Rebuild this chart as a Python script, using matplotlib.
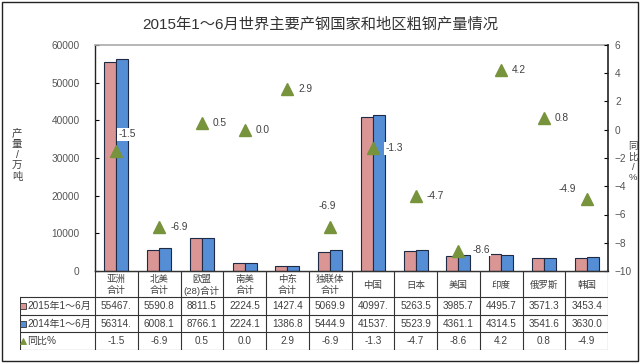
import matplotlib
matplotlib.use("Agg")
import matplotlib.pyplot as plt
import numpy as np

plt.rcParams['font.family'] = ['Liberation Sans', 'Noto Sans CJK SC', 'DejaVu Sans']

categories = ["亚洲\n合计", "北美\n合计", "欧盟\n(28)合计", "南美\n合计", "中东\n合计", "独联体\n合计",
              "中国", "日本", "美国", "印度", "俄罗斯", "韩国"]
prod_2015 = [55467.0, 5590.8, 8811.5, 2224.5, 1427.4, 5069.9, 40997.0, 5263.5, 3985.7, 4495.7, 3571.3, 3453.4]
prod_2014 = [56314.0, 6008.1, 8766.1, 2224.1, 1386.8, 5444.9, 41537.0, 5523.9, 4361.1, 4314.5, 3541.6, 3630.0]
yoy = [-1.5, -6.9, 0.5, 0.0, 2.9, -6.9, -1.3, -4.7, -8.6, 4.2, 0.8, -4.9]
txt_2015 = ["55467.", "5590.8", "8811.5", "2224.5", "1427.4", "5069.9", "40997.", "5263.5", "3985.7", "4495.7", "3571.3", "3453.4"]
txt_2014 = ["56314.", "6008.1", "8766.1", "2224.1", "1386.8", "5444.9", "41537.", "5523.9", "4361.1", "4314.5", "3541.6", "3630.0"]
txt_yoy = ["-1.5", "-6.9", "0.5", "0.0", "2.9", "-6.9", "-1.3", "-4.7", "-8.6", "4.2", "0.8", "-4.9"]
series_names = ["2015年1～6月", "2014年1～6月", "同比%"]

W, H = 640, 363
fig = plt.figure(figsize=(W/100, H/100), dpi=100)
fig.patch.set_facecolor('white')

def fx(px): return px / W
def fy(py): return 1 - py / H

# outer frame
fig.add_artist(plt.Rectangle((fx(2), fy(361)), fx(636), 359/H, transform=fig.transFigure,
                             fill=False, ec='#222222', lw=1.0))

pink = '#D99694'
blue = '#558ED5'
green = '#77933C'
tc = '#404040'

L, R, T, B = 95, 608, 45, 271
ax = fig.add_axes([fx(L), fy(B), fx(R - L), (B - T) / H])
n = len(categories)
x = np.arange(n)
bw = 0.28
ax.bar(x - bw/2, prod_2015, width=bw, color=pink, edgecolor='#1F2A44', lw=0.8, zorder=2)
ax.bar(x + bw/2, prod_2014, width=bw, color=blue, edgecolor='#1F2A44', lw=0.8, zorder=2)
ax.set_xlim(-0.5, n - 0.5)
ax.set_ylim(0, 60000)
ax.set_yticks(np.arange(0, 60001, 10000))
ax.set_xticks([])
ax.tick_params(axis='y', direction='in', length=3, labelsize=7.3, labelcolor='#555555', pad=11, width=0.8)
for s in ['left', 'bottom']:
    ax.spines[s].set_color('#222222')
    ax.spines[s].set_linewidth(1.0)
ax.spines['top'].set_color('#AAAAAA')
ax.spines['top'].set_linewidth(1.2)
ax.spines['right'].set_visible(False)

ax2 = ax.twinx()
ax2.set_ylim(-10, 6)
ax2.set_yticks(np.arange(-10, 7, 2))
ax2.tick_params(axis='y', direction='in', length=3, labelsize=7.3, labelcolor='#555555', pad=5, width=0.8)
ax2.spines['right'].set_color('#222222')
ax2.spines['right'].set_linewidth(1.2)
for s in ['left', 'top', 'bottom']:
    ax2.spines[s].set_visible(False)
ax2.plot(x, yoy, linestyle='none', marker='^', markersize=8.5, color=green, zorder=3)

# label offsets (points): dx, dy, ha, white box
offs = {0: (8, 12, 'center', True), 5: (-2, 15, 'center', False), 11: (-14, 7, 'center', False),
        6: (9, 0, 'left', True), 8: (10, 1, 'left', True)}
for i, v in enumerate(yoy):
    dx, dy, ha, box = offs.get(i, (8, 0, 'left', False))
    kw = dict(bbox=dict(fc='white', ec='none', pad=1)) if box else {}
    ax2.annotate(txt_yoy[i], (x[i], v), xytext=(dx, dy), textcoords='offset points',
                 ha=ha, va='center', fontsize=7.3, color=tc, **kw)

# title
fig.text(0.5, fy(25), "2015年1～6月世界主要产钢国家和地区粗钢产量情况", ha='center', va='center',
         fontsize=11, color='#333333')

# axis titles
fig.text(fx(17), fy(155), "产\n量\n/\n万\n吨", ha='center', va='center', fontsize=7.5, color=tc, linespacing=1.15)
fig.text(fx(633), fy(162), "同\n比\n/\n%", ha='center', va='center', fontsize=6.8, color=tc, linespacing=1.15)

# data table
tL = 20
tb = 350
rows_y = [271, 297, 315, 332, 350]
tax = fig.add_axes([fx(tL), fy(tb), fx(R - tL), (tb - B) / H])
lcol = -0.5 - (L - tL) / ((R - L) / n)
tax.set_xlim(lcol, n - 0.5)
tax.set_ylim(tb, B)
tax.axis('off')
lc = '#333333'
tax.plot([-0.5, n - 0.5], [rows_y[0], rows_y[0]], color=lc, lw=0.8)
for yy in rows_y[1:]:
    tax.plot([lcol, n - 0.5], [yy, yy], color=lc, lw=0.8)
for k in range(n + 1):
    tax.plot([k - 0.5, k - 0.5], [rows_y[0], rows_y[-1]], color=lc, lw=0.8)
tax.plot([lcol, lcol], [rows_y[1], rows_y[-1]], color=lc, lw=0.8)

for i in range(n):
    tax.text(i, (rows_y[0] + rows_y[1]) / 2 + 1, categories[i], ha='center', va='center',
             fontsize=6.8, color=tc, linespacing=1.3)
    tax.text(i, (rows_y[1] + rows_y[2]) / 2, txt_2015[i], ha='center', va='center', fontsize=7.2, color=tc)
    tax.text(i, (rows_y[2] + rows_y[3]) / 2, txt_2014[i], ha='center', va='center', fontsize=7.2, color=tc)
    tax.text(i, (rows_y[3] + rows_y[4]) / 2, txt_yoy[i], ha='center', va='center', fontsize=7.2, color=tc)

mx = lcol + 0.08
for r, (name, col, mk) in enumerate(zip(series_names, [pink, blue, green], ['s', 's', '^'])):
    yc = (rows_y[r + 1] + rows_y[r + 2]) / 2
    tax.plot([mx], [yc], marker=mk, markersize=5, color=col,
             markeredgecolor='#333333' if mk == 's' else col, markeredgewidth=0.6, linestyle='none')
    tax.text(mx + 0.09, yc, name, ha='left', va='center', fontsize=7.2, color=tc)

fig.savefig("out.png", dpi=100, facecolor='white')
